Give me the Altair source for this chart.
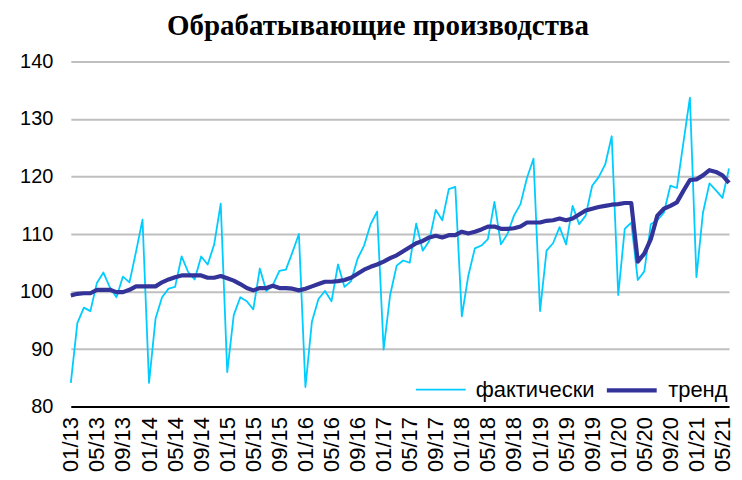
import altair as alt
import pandas as pd

# monthly, 01/2013 .. 06/2021
start_year = 2013
n_months = 102

fact = [
    84.1, 94.5, 97.2, 96.6, 101.5, 103.3, 100.7, 99.0, 102.6, 101.6, 106.9, 112.5,
    84.1, 95.3, 99.0, 100.5, 100.8, 106.1, 103.4, 102.1, 106.1, 104.7, 108.2, 115.3,
    86.0, 95.9, 99.0, 98.3, 96.9, 104.0, 100.1, 101.1, 103.6, 103.8, 106.8, 110.0,
    83.4, 94.8, 98.7, 100.1, 98.3, 104.7, 100.8, 101.8, 105.7, 108.0, 111.7, 113.9,
    89.9, 99.4, 104.5, 105.4, 105.0, 111.8, 107.1, 108.8, 114.2, 112.4, 117.8, 118.2,
    95.7, 102.8, 107.5, 108.0, 109.1, 115.6, 108.2, 110.0, 113.2, 115.2, 119.8, 123.1,
    96.6, 107.1, 108.4, 111.2, 108.2, 114.9, 111.7, 113.2, 118.4, 119.9, 122.1, 127.0,
    99.4, 110.9, 112.0, 102.0, 103.5, 111.7, 112.4, 113.7, 118.4, 118.0, 125.9, 133.7,
    102.5, 113.7, 118.8, 117.6, 116.3, 121.4,
]

trend = [
    99.3, 99.6, 99.7, 99.7, 100.3, 100.3, 100.3, 99.9, 99.9, 100.3, 100.9, 100.9,
    100.9, 100.9, 101.6, 102.1, 102.5, 102.8, 102.8, 102.8, 102.8, 102.4, 102.4, 102.7,
    102.3, 101.9, 101.3, 100.6, 100.2, 100.6, 100.6, 101.0, 100.6, 100.6, 100.5, 100.2,
    100.5, 100.9, 101.3, 101.7, 101.7, 101.8, 102.0, 102.4, 103.1, 103.8, 104.3, 104.7,
    105.2, 105.8, 106.3, 107.0, 107.7, 108.4, 108.8, 109.4, 109.7, 109.4, 109.8, 109.8,
    110.4, 110.1, 110.4, 110.8, 111.3, 111.3, 110.9, 110.9, 111.0, 111.3, 112.0, 112.0,
    112.0, 112.3, 112.4, 112.7, 112.4, 112.7, 113.4, 114.1, 114.4, 114.7, 114.9, 115.1,
    115.2, 115.4, 115.4, 105.2, 106.6, 109.1, 113.2, 114.4, 114.9, 115.5, 117.5, 119.4,
    119.5, 120.2, 121.1, 120.8, 120.2, 118.9,
]

series_names = ["фактически", "тренд"]
series_colors = ["#00CCFF", "#333399"]
series_widths = [1.8, 4.2]

months = [f"{(i % 12) + 1:02d}/{(start_year + i // 12) % 100:02d}" for i in range(n_months)]
tick_labels = months[::4]

rows = []
for name, vals in zip(series_names, [fact, trend]):
    for m, v in zip(months, vals):
        rows.append({"month": m, "series": name, "value": v})
df = pd.DataFrame(rows)

FONT = "Liberation Sans"

legend_cfg = dict(
    title=None,
    orient="none",
    legendX=345,
    legendY=302,
    direction="horizontal",
    symbolType="stroke",
    symbolSize=2500,
    labelFont=FONT,
    labelFontSize=22,
    labelColor="#000000",
    labelOffset=9,
    columnPadding=3,
)

chart = alt.Chart(df).mark_line(strokeJoin="round").encode(
    x=alt.X(
        "month:O",
        sort=months,
        scale=alt.Scale(type="point", padding=0),
        axis=alt.Axis(
            values=tick_labels,
            labelAngle=-90,
            title=None,
            ticks=False,
            grid=False,
            domain=True,
            domainColor="#000000",
            domainWidth=2,
            labelFont=FONT,
            labelFontSize=22,
            labelColor="#000000",
            labelPadding=10,
        ),
    ),
    y=alt.Y(
        "value:Q",
        scale=alt.Scale(domain=[80, 140], nice=False, zero=False),
        axis=alt.Axis(
            values=[80, 90, 100, 110, 120, 130, 140],
            title=None,
            ticks=False,
            domain=False,
            grid=True,
            gridColor="#BFBFBF",
            gridWidth=2,
            labelFont=FONT,
            labelFontSize=20,
            labelColor="#000000",
            labelPadding=18,
        ),
    ),
    color=alt.Color(
        "series:N",
        scale=alt.Scale(domain=series_names, range=series_colors),
        legend=alt.Legend(**legend_cfg),
    ),
    strokeWidth=alt.StrokeWidth(
        "series:N",
        scale=alt.Scale(domain=series_names, range=series_widths),
        legend=alt.Legend(**legend_cfg),
    ),
    order=alt.Order("series:N"),
).properties(
    width=660,
    height=346,
    title=alt.TitleParams(
        "Обрабатывающие производства",
        font="Liberation Serif",
        fontSize=29,
        fontWeight="bold",
        color="#000000",
        anchor="middle",
        dx=-22,
        offset=11,
    ),
    autosize=alt.AutoSizeParams(type="none"),
    padding={"left": 63, "top": 53, "right": 5, "bottom": 71},
).configure_view(stroke=None)

chart.save("out.html", embed_options={"renderer": "svg", "actions": False})
